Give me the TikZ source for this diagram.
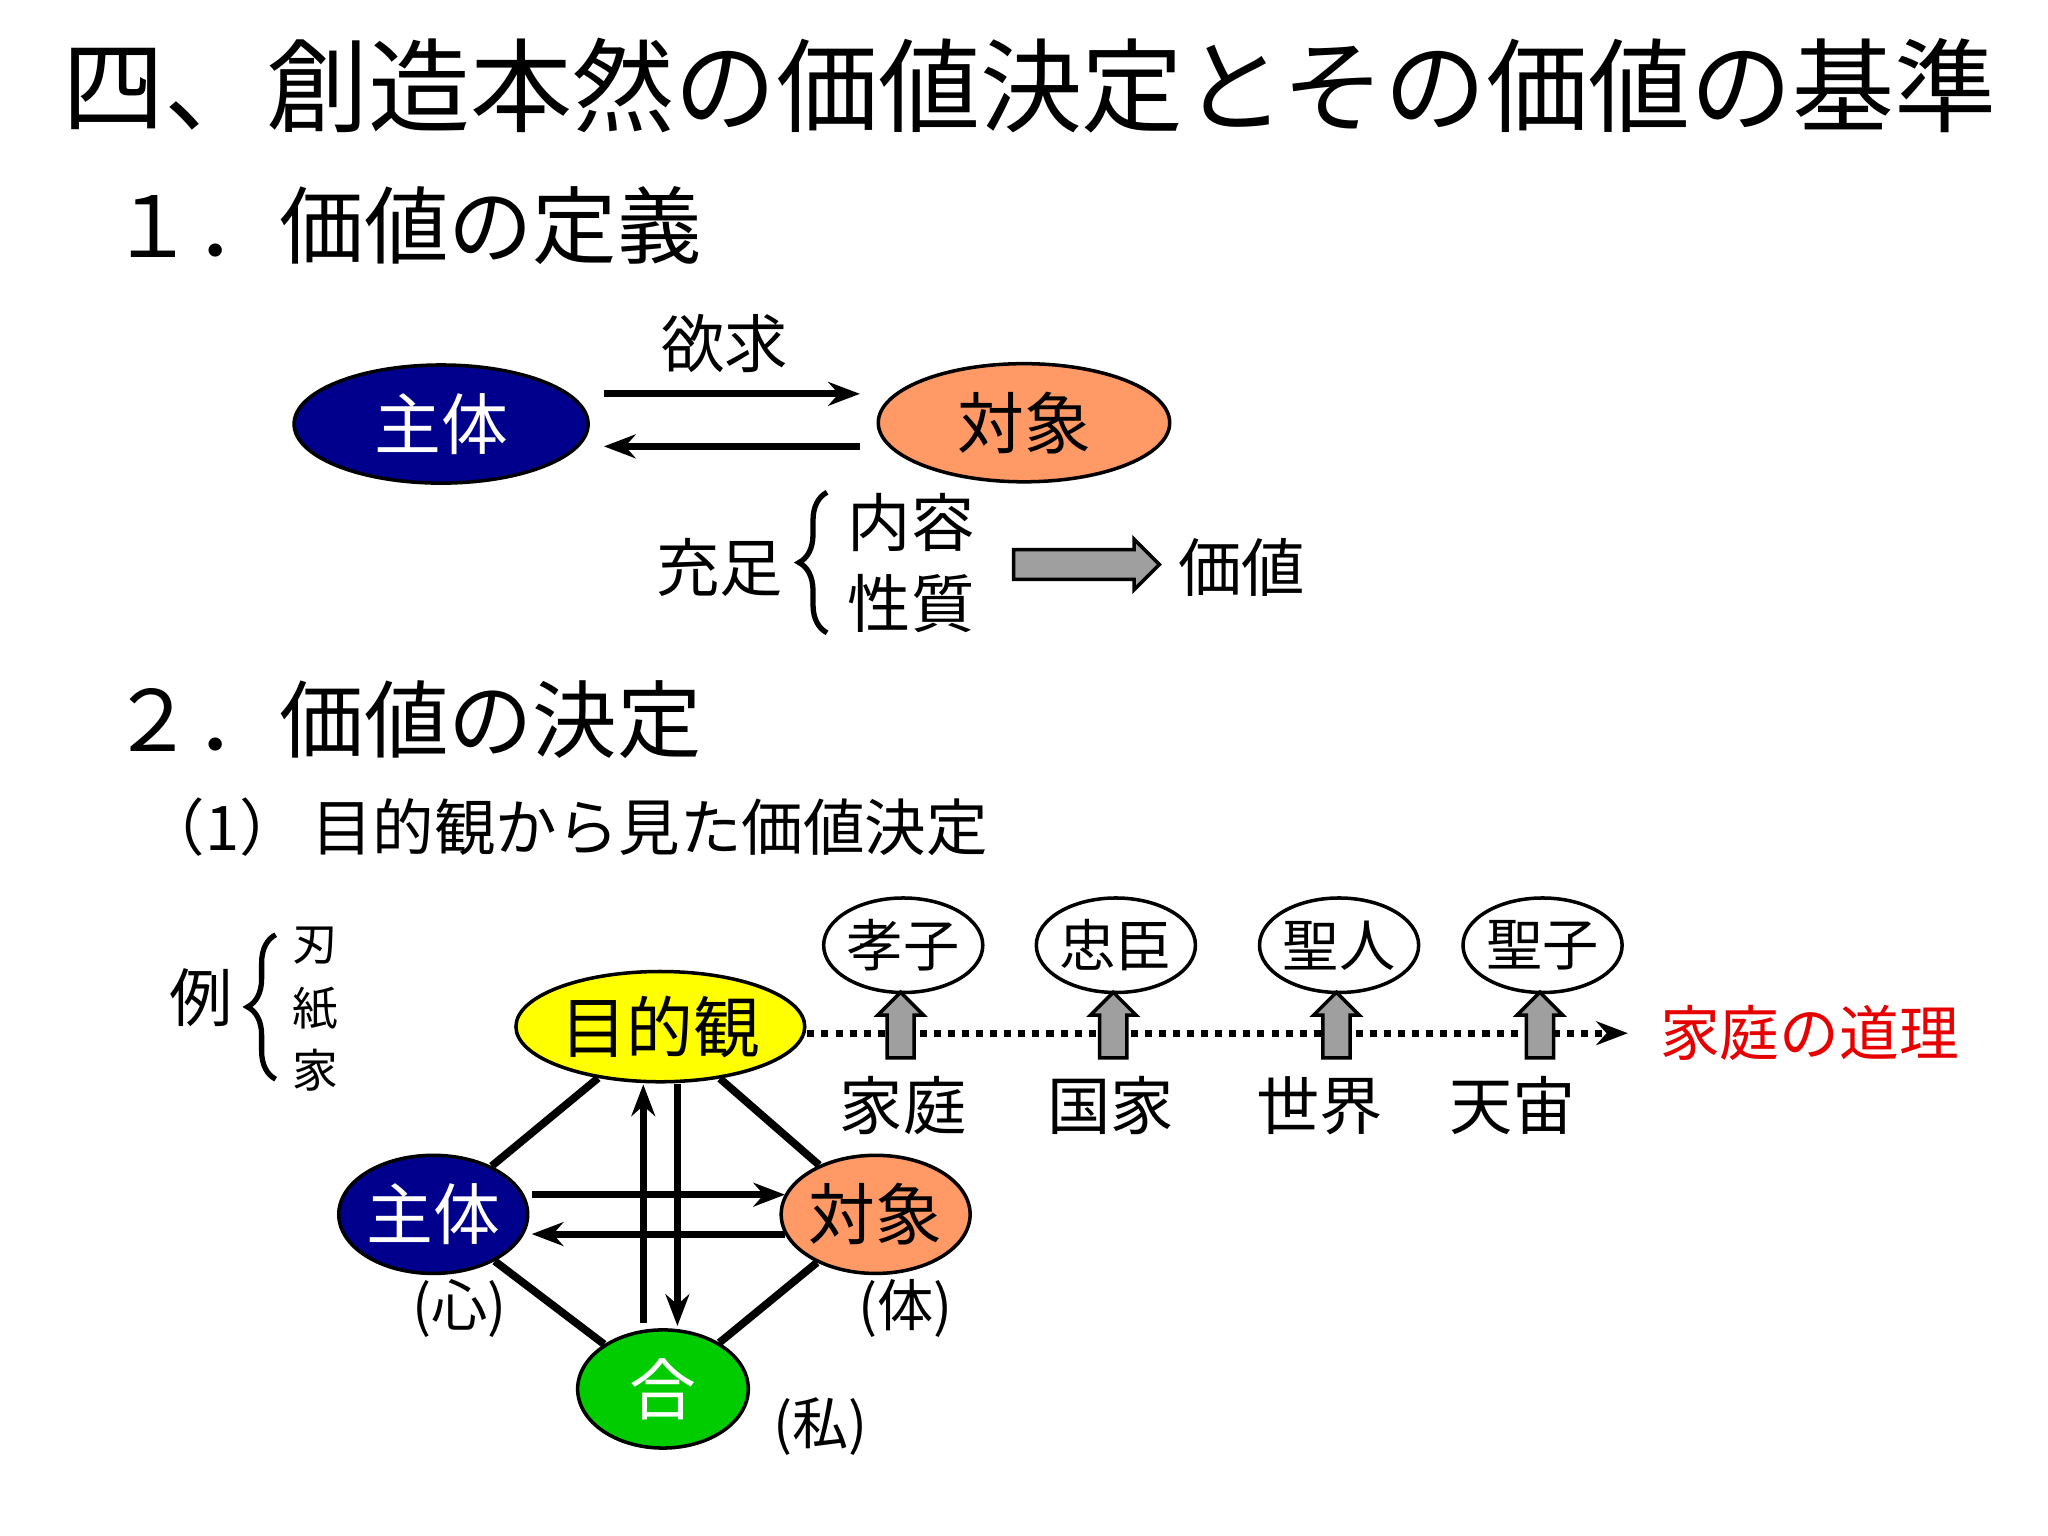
\documentclass[tikz,border=0pt]{standalone}
\usepackage{fontspec}
\setmainfont{Noto Sans CJK JP}
\usetikzlibrary{shapes.geometric,shapes.arrows,arrows.meta,decorations.pathreplacing}
\definecolor{navyb}{RGB}{0,0,140}
\definecolor{orangeb}{RGB}{255,153,102}
\definecolor{yellowb}{RGB}{255,255,0}
\definecolor{greenb}{RGB}{0,204,0}
\definecolor{redb}{RGB}{230,0,0}
\begin{document}
\begin{tikzpicture}[x=0.013128cm,y=-0.013128cm,
  el/.style={ellipse,draw=black,line width=1pt,inner sep=0pt},
  big/.style={font=\fontsize{19}{21}\selectfont},
  lab/.style={font=\fontsize{18}{20}\selectfont},
  sm/.style={font=\fontsize{16}{18}\selectfont},
  tiny/.style={font=\fontsize{13}{15}\selectfont},
  arr/.style={-{Stealth[length=9pt]},line width=2pt},
  ln/.style={line width=2.2pt},
  blk/.style={single arrow,draw=black,fill=gray!75,line width=1pt,minimum height={111*0.013128cm},inner sep={10*0.013128cm},single arrow head extend={8*0.013128cm}},
  blku/.style={single arrow,draw=black,fill=gray!75,line width=1pt,shape border rotate=90,minimum height={50*0.013128cm},inner sep={9*0.013128cm},single arrow head extend={7*0.013128cm}}]
\useasboundingbox (0,0) rectangle (1560,1170);
\node[anchor=west,font=\fontsize{29}{31}\selectfont] (title) at (38,65) {四、創造本然の価値決定とその価値の基準};
\node[anchor=west,font=\fontsize{24}{26}\selectfont] (h1) at (75,172) {１．価値の定義};
\node[el,fill=navyb,minimum width={224*0.013128cm},minimum height={90*0.013128cm},text=white,big] (s1) at (336,323) {主体};
\node[el,fill=orangeb,minimum width={222*0.013128cm},minimum height={90*0.013128cm},big] (o1) at (780,322) {対象};
\coordinate (a1) at (460,300); \coordinate (a2) at (655,300);
\coordinate (b1) at (655,340); \coordinate (b2) at (460,340);
\draw[arr] (a1) -- (a2);
\draw[arr] (b1) -- (b2);
\node[lab] (yk) at (552,262) {欲求};
\node[lab] (jj) at (548,432) {充足};
\coordinate (br1) at (630,482); \coordinate (br2) at (630,375);
\draw[line width=1.5pt,decorate,decoration={brace,amplitude=8pt}] (br1) -- (br2);
\node[lab] (ny) at (694,398) {内容};
\node[lab] (ss) at (694,460) {性質};
\node[blk] (ga) at (822,430) {};
\node[lab] (kc) at (946,432) {価値};
\node[anchor=west,font=\fontsize{24}{26}\selectfont] (h2) at (75,548) {２．価値の決定};
\node[anchor=west,font=\fontsize{17.5}{19}\selectfont] (h3) at (100,630) {（1）\,目的観から見た価値決定};
\node[lab] (rei) at (153,760) {例};
\coordinate (br3) at (210,822); \coordinate (br4) at (210,712);
\draw[line width=1.5pt,decorate,decoration={brace,amplitude=8pt}] (br3) -- (br4);
\node[tiny] (k1) at (240,720) {刃};
\node[tiny] (k2) at (240,768) {紙};
\node[tiny] (k3) at (240,815) {家};
\node[el,fill=yellowb,minimum width={220*0.013128cm},minimum height={84*0.013128cm},big] (m) at (503,782) {目的観};
\node[el,fill=navyb,minimum width={134*0.013128cm},minimum height={90*0.013128cm},text=white,big] (s2) at (330,925) {主体};
\node[el,fill=orangeb,minimum width={132*0.013128cm},minimum height={90*0.013128cm},big] (o2) at (667,925) {対象};
\node[el,fill=greenb,minimum width={130*0.013128cm},minimum height={90*0.013128cm},text=white,big] (g) at (505,1058) {合};
\draw[ln] (m) -- (s2); \draw[ln] (m) -- (o2);
\draw[ln] (s2) -- (g); \draw[ln] (o2) -- (g);
\coordinate (c1) at (405,910); \coordinate (c2) at (598,910);
\coordinate (c3) at (598,940); \coordinate (c4) at (405,940);
\draw[arr] (c1) -- (c2); \draw[arr] (c3) -- (c4);
\coordinate (v1) at (490,1008); \coordinate (v2) at (490,826);
\coordinate (v3) at (516,826); \coordinate (v4) at (516,1010);
\draw[arr] (v1) -- (v2); \draw[arr] (v3) -- (v4);
\node[sm] (p1) at (350,997) {(心)};
\node[sm] (p2) at (690,997) {(体)};
\node[sm] (p3) at (625,1087) {(私)};
\coordinate (d1) at (615,787); \coordinate (d2) at (1240,787);
\draw[dotted,line width=2pt,-{Stealth[length=9pt]}] (d1) -- (d2);
\node[anchor=west,font=\fontsize{17}{19}\selectfont,text=redb] (kr) at (1255,787) {家庭の道理};
\foreach \x/\t/\b/\bx/\n in {688/孝子/家庭/688/a,850/忠臣/国家/846/b,1020/聖人/世界/1005/c,1175/聖子/天宙/1152/d}{
  \node[el,fill=white,minimum width={104*0.013128cm},minimum height={72*0.013128cm},sm] (c\n) at (\x,720) {\t};
  \node[blku] (u\n) at (\x-2,786) {};
  \node[lab] (l\n) at (\bx,842) {\b};
}
\end{tikzpicture}
\end{document}
